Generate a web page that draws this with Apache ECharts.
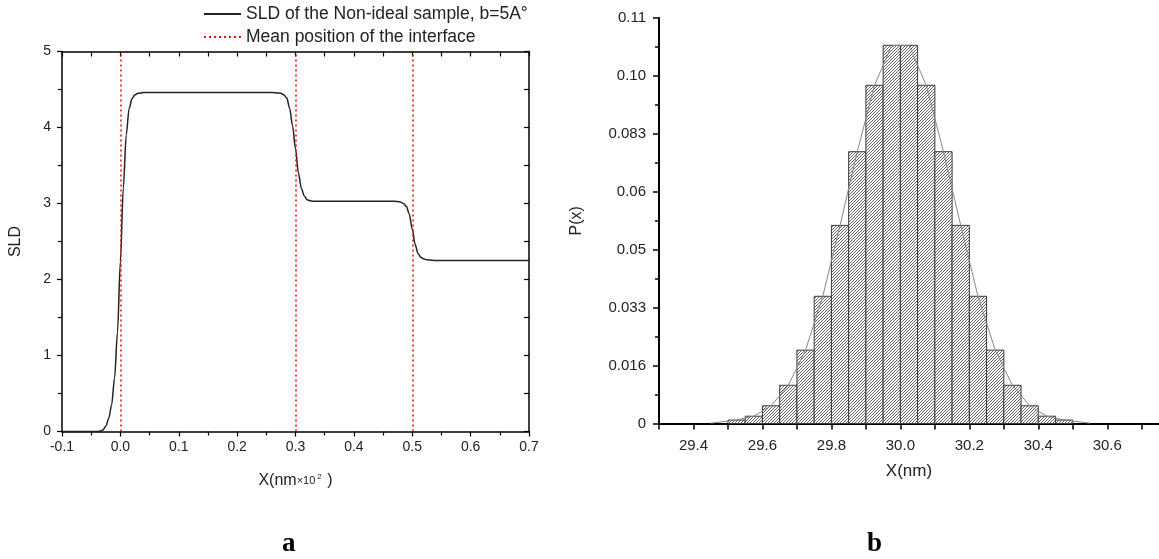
<!DOCTYPE html>
<html>
<head>
<meta charset="utf-8">
<script src="https://cdn.jsdelivr.net/npm/echarts@6/dist/echarts.min.js"></script>
<style>
html,body{margin:0;padding:0;background:#fff;}
#c{width:1159px;height:559px;}
</style>
</head>
<body>
<div id="c"></div>
<script>
// ---------- Panel a : SLD profile ----------
const sldX = [-0.1, -0.05, -0.04, -0.035, -0.03, -0.025, -0.02, -0.015, -0.01, -0.005, 0, 0.005, 0.01, 0.015, 0.02, 0.025, 0.03, 0.04, 0.1, 0.2, 0.26, 0.27, 0.275, 0.28, 0.285, 0.29, 0.295, 0.3, 0.305, 0.31, 0.315, 0.32, 0.325, 0.33, 0.34, 0.4, 0.47, 0.475, 0.48, 0.485, 0.49, 0.495, 0.5, 0.505, 0.51, 0.515, 0.52, 0.525, 0.53, 0.54, 0.6, 0.7];
const sldY = [0, 0, 0, 0.005, 0.02, 0.07, 0.17, 0.35, 0.7, 1.3, 2.24, 3.2, 3.9, 4.25, 4.38, 4.43, 4.45, 4.46, 4.46, 4.46, 4.46, 4.455, 4.45, 4.43, 4.39, 4.25, 4.02, 3.72, 3.4, 3.2, 3.1, 3.05, 3.035, 3.03, 3.03, 3.03, 3.03, 3.025, 3.02, 3.0, 2.96, 2.86, 2.66, 2.46, 2.34, 2.29, 2.27, 2.26, 2.255, 2.25, 2.25, 2.25];
const interfaces = [0, 0.3, 0.5];
const leftXTickLabels = ['-0.1', '0.0', '0.1', '0.2', '0.3', '0.4', '0.5', '0.6', '0.7'];
const leftYTickLabels = ['0', '1', '2', '3', '4', '5'];
const seriesNameA = 'SLD of the Non-ideal sample, b=5A°';
const seriesNameB = 'Mean position of the interface';

// ---------- Panel b : histogram ----------
const binStart = [29.50, 29.55, 29.60, 29.65, 29.70, 29.75, 29.80, 29.85, 29.90, 29.95, 30.00, 30.05, 30.10, 30.15, 30.20, 30.25, 30.30, 30.35, 30.40, 30.45];
const binWidth = 0.05;
const binValue = [0.0010, 0.0021, 0.0051, 0.0110, 0.0211, 0.0366, 0.0570, 0.0782, 0.0973, 0.1088, 0.1088, 0.0973, 0.0782, 0.0570, 0.0366, 0.0211, 0.0110, 0.0051, 0.0021, 0.0010];
const curveX = [29.45, 29.475, 29.525, 29.575, 29.625, 29.675, 29.725, 29.775, 29.825, 29.875, 29.925, 29.975, 30.025, 30.075, 30.125, 30.175, 30.225, 30.275, 30.325, 30.375, 30.425, 30.475, 30.525, 30.55];
const curveY = [0.0001, 0.0004, 0.0010, 0.0021, 0.0051, 0.0110, 0.0211, 0.0366, 0.0570, 0.0782, 0.0973, 0.1088, 0.1088, 0.0973, 0.0782, 0.0570, 0.0366, 0.0211, 0.0110, 0.0051, 0.0021, 0.0010, 0.0004, 0.0001];
const rightXTickLabels = ['29.4', '29.6', '29.8', '30.0', '30.2', '30.4', '30.6'];
const rightYTickLabels = ['0', '0.016', '0.033', '0.05', '0.06', '0.083', '0.10', '0.11'];

// hatch pattern
const tile = document.createElement('canvas');
tile.width = 3; tile.height = 3;
(function () {
  const g = tile.getContext('2d');
  g.fillStyle = '#ffffff'; g.fillRect(0, 0, 3, 3);
  g.strokeStyle = '#666666'; g.lineWidth = 1;
  g.beginPath();
  g.moveTo(-1, 4); g.lineTo(4, -1);
  g.moveTo(-1, 1); g.lineTo(1, -1);
  g.moveTo(2, 4); g.lineTo(4, 2);
  g.stroke();
})();
const hatch = { image: tile, repeat: 'repeat' };

const FONT = "'Liberation Sans', Arial, sans-serif";
const chart = echarts.init(document.getElementById('c'), null, { renderer: 'canvas' });

const axisLineStyle = (w) => ({ onZero: false, lineStyle: { color: '#000', width: w } });

chart.setOption({
  animation: false,
  backgroundColor: '#fff',
  textStyle: { fontFamily: FONT },
  legend: {
    orient: 'vertical', left: 203, top: 5, itemWidth: 37, itemHeight: 14, itemGap: 5, padding: 0,
    itemStyle: { color: 'rgba(0,0,0,0)', borderWidth: 0, opacity: 0 },
    textStyle: { fontSize: 17.5, color: '#222', fontFamily: FONT },
    data: [seriesNameA, seriesNameB]
  },
  grid: [
    { left: 62, top: 51.5, width: 467, height: 380 },
    { left: 659, top: 18, right: 0, height: 405.5 }
  ],
  xAxis: [
    {
      gridIndex: 0, type: 'value', min: -0.1, max: 0.7, interval: 0.1, position: 'bottom',
      axisLine: axisLineStyle(1.5), splitLine: { show: false },
      axisTick: { length: 5, lineStyle: { color: '#000', width: 1.2 } },
      minorTick: { show: true, splitNumber: 2, length: 4, lineStyle: { color: '#000', width: 1.2 } },
      axisLabel: { fontSize: 14, color: '#222', margin: 9, formatter: (v, i) => leftXTickLabels[i] ?? '' },
      name: '{a|X(nm}{s|×10}{p|2}{a| )}', nameLocation: 'middle', nameGap: 41,
      nameTextStyle: { rich: { a: { fontSize: 16, color: '#222' }, s: { fontSize: 11, color: '#222' }, p: { fontSize: 8, color: '#222', padding: [0, 1, 9, 2] } } }
    },
    {
      gridIndex: 0, type: 'value', min: -0.1, max: 0.7, interval: 0.05, position: 'top',
      axisLine: axisLineStyle(1.5), splitLine: { show: false },
      axisTick: { inside: true, length: 5, lineStyle: { color: '#000', width: 1.2 } },
      axisLabel: { show: false }
    },
    {
      gridIndex: 1, type: 'value', min: 29.3, max: 30.75, interval: 0.1,
      axisLine: axisLineStyle(2), splitLine: { show: false },
      axisTick: { length: 6, lineStyle: { color: '#000', width: 1.5 } },
      axisLabel: {
        fontSize: 15, color: '#222', margin: 15, showMaxLabel: false,
        formatter: (v) => { const s = v.toFixed(1); return rightXTickLabels.includes(s) ? s : ''; }
      },
      name: 'X(nm)', nameLocation: 'middle', nameGap: 39,
      nameTextStyle: { fontSize: 17, color: '#222' }
    }
  ],
  yAxis: [
    {
      gridIndex: 0, type: 'value', min: 0, max: 5, interval: 1, position: 'left',
      axisLine: axisLineStyle(1.5), splitLine: { show: false },
      axisTick: { length: 5, lineStyle: { color: '#000', width: 1.2 } },
      minorTick: { show: true, splitNumber: 2, length: 4, lineStyle: { color: '#000', width: 1.2 } },
      axisLabel: { fontSize: 14, color: '#222', margin: 11, formatter: (v, i) => leftYTickLabels[i] ?? '' },
      name: 'SLD', nameLocation: 'middle', nameGap: 38, nameRotate: 90,
      nameTextStyle: { fontSize: 16, color: '#222' }
    },
    {
      gridIndex: 0, type: 'value', min: 0, max: 5, interval: 0.5, position: 'right',
      axisLine: axisLineStyle(1.5), splitLine: { show: false },
      axisTick: { inside: true, length: 5, lineStyle: { color: '#000', width: 1.2 } },
      axisLabel: { show: false }
    },
    {
      gridIndex: 1, type: 'value', min: 0, max: 7 / 60, interval: 1 / 60, position: 'left',
      axisLine: axisLineStyle(2), splitLine: { show: false },
      axisTick: { length: 6, lineStyle: { color: '#000', width: 1.5 } },
      minorTick: { show: true, splitNumber: 2, length: 4, lineStyle: { color: '#000', width: 1.5 } },
      axisLabel: { fontSize: 15, color: '#222', margin: 13, formatter: (v) => rightYTickLabels[Math.round(v * 60)] ?? '' },
      name: 'P(x)', nameLocation: 'middle', nameGap: 74, nameRotate: 90,
      nameTextStyle: { fontSize: 16, color: '#222' }
    }
  ],
  series: [
    {
      name: seriesNameA, type: 'line', xAxisIndex: 0, yAxisIndex: 0,
      data: sldX.map((x, i) => [x, sldY[i]]),
      showSymbol: false, symbol: 'none', smooth: 0.3, smoothMonotone: 'x',
      lineStyle: { color: '#222', width: 1.5 }, itemStyle: { color: '#222' }, z: 3
    },
    {
      name: seriesNameB, type: 'line', xAxisIndex: 0, yAxisIndex: 0, data: [],
      symbol: 'none', lineStyle: { color: '#ff0000', width: 1.5, type: [2, 3] }, itemStyle: { color: '#ff0000' },
      markLine: {
        silent: true, symbol: ['none', 'none'], label: { show: false },
        lineStyle: { color: '#ff0000', width: 1.5, type: [2, 3] },
        data: interfaces.map(x => ({ xAxis: x }))
      }, z: 2
    },
    {
      type: 'custom', xAxisIndex: 2, yAxisIndex: 2,
      data: binStart.map((s, i) => [s, s + binWidth, binValue[i]]),
      renderItem: function (params, api) {
        const p0 = api.coord([api.value(0), api.value(2)]);
        const p1 = api.coord([api.value(1), 0]);
        return {
          type: 'rect',
          shape: { x: p0[0], y: p0[1], width: p1[0] - p0[0], height: p1[1] - p0[1] },
          style: { fill: hatch, stroke: '#3a3a3a', lineWidth: 1 }
        };
      }, z: 2
    },
    {
      type: 'line', xAxisIndex: 2, yAxisIndex: 2,
      data: curveX.map((x, i) => [x, curveY[i]]),
      symbol: 'none', lineStyle: { color: '#888', width: 1 }, z: 4
    }
  ],
  graphic: [
    { type: 'text', left: 282, top: 531, style: { text: 'a', font: "bold 27px 'Liberation Serif', 'Times New Roman', serif", fill: '#000' } },
    { type: 'text', left: 867, top: 531, style: { text: 'b', font: "bold 27px 'Liberation Serif', 'Times New Roman', serif", fill: '#000' } }
  ]
});
</script>
</body>
</html>
